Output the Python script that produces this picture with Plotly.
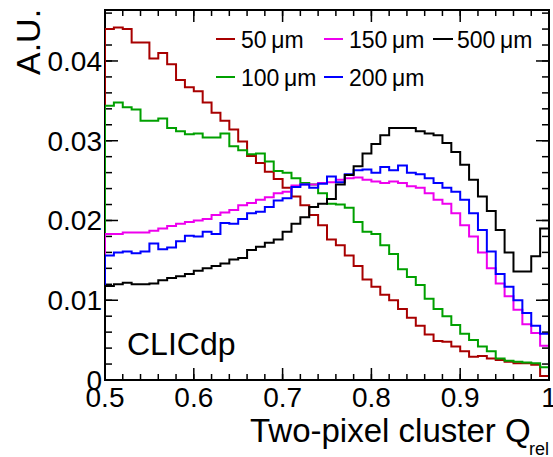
import numpy as np
import plotly.graph_objects as go

# Bin edges of the relative charge histogram (50 bins from 0.5 to 1.0)
bin_edges = np.round(np.linspace(0.5, 1.0, 51), 3)

# Normalised entries per bin for each pixel pitch
q_50um = [0.0440, 0.0442, 0.0440, 0.0423, 0.0423, 0.0403, 0.0410, 0.0396, 0.0376, 0.0367,
          0.0362, 0.0348, 0.0335, 0.0325, 0.0314, 0.0299, 0.0281, 0.0272, 0.0261, 0.0252,
          0.0241, 0.0230, 0.0219, 0.0207, 0.0194, 0.0176, 0.0169, 0.0156, 0.0143, 0.0126,
          0.0117, 0.0107, 0.0100, 0.0089, 0.0078, 0.0068, 0.0057, 0.0049, 0.0048, 0.0042,
          0.0036, 0.0029, 0.0030, 0.0027, 0.0025, 0.0023, 0.0021, 0.0021, 0.0019, 0.0005]
q_100um = [0.0344, 0.0348, 0.0342, 0.0339, 0.0325, 0.0325, 0.0328, 0.0316, 0.0312, 0.0308,
           0.0309, 0.0304, 0.0304, 0.0309, 0.0293, 0.0288, 0.0283, 0.0284, 0.0274, 0.0262,
           0.0260, 0.0253, 0.0247, 0.0245, 0.0234, 0.0221, 0.0220, 0.0216, 0.0198, 0.0186,
           0.0183, 0.0169, 0.0158, 0.0139, 0.0129, 0.0119, 0.0102, 0.0089, 0.0080, 0.0069,
           0.0058, 0.0050, 0.0042, 0.0036, 0.0027, 0.0024, 0.0023, 0.0022, 0.0021, 0.0016]
q_150um = [0.0183, 0.0183, 0.0185, 0.0185, 0.0185, 0.0187, 0.0190, 0.0193, 0.0196, 0.0198,
           0.0200, 0.0202, 0.0207, 0.0210, 0.0213, 0.0219, 0.0222, 0.0226, 0.0229, 0.0234,
           0.0236, 0.0244, 0.0245, 0.0245, 0.0247, 0.0248, 0.0251, 0.0253, 0.0254, 0.0251,
           0.0249, 0.0247, 0.0249, 0.0247, 0.0243, 0.0241, 0.0234, 0.0226, 0.0221, 0.0209,
           0.0194, 0.0180, 0.0160, 0.0140, 0.0121, 0.0105, 0.0088, 0.0070, 0.0059, 0.0043]
q_200um = [0.0156, 0.0160, 0.0161, 0.0159, 0.0161, 0.0171, 0.0164, 0.0166, 0.0174, 0.0181,
           0.0180, 0.0186, 0.0183, 0.0197, 0.0196, 0.0202, 0.0209, 0.0211, 0.0217, 0.0225,
           0.0228, 0.0242, 0.0245, 0.0241, 0.0246, 0.0255, 0.0248, 0.0258, 0.0263, 0.0264,
           0.0260, 0.0267, 0.0263, 0.0269, 0.0260, 0.0258, 0.0253, 0.0247, 0.0241, 0.0236,
           0.0226, 0.0209, 0.0188, 0.0161, 0.0133, 0.0117, 0.0100, 0.0084, 0.0068, 0.0058]
q_500um = [0.0118, 0.0120, 0.0122, 0.0120, 0.0120, 0.0121, 0.0125, 0.0128, 0.0130, 0.0133,
           0.0137, 0.0140, 0.0143, 0.0146, 0.0151, 0.0153, 0.0163, 0.0167, 0.0172, 0.0176,
           0.0186, 0.0196, 0.0204, 0.0217, 0.0221, 0.0227, 0.0245, 0.0257, 0.0268, 0.0284,
           0.0296, 0.0307, 0.0316, 0.0316, 0.0316, 0.0312, 0.0309, 0.0307, 0.0297, 0.0286,
           0.0270, 0.0251, 0.0230, 0.0212, 0.0188, 0.0160, 0.0136, 0.0136, 0.0155, 0.0190]

series_labels = ["50\u2009\u03bcm", "100\u2009\u03bcm", "150\u2009\u03bcm", "200\u2009\u03bcm", "500\u2009\u03bcm"]
series_values = [q_50um, q_100um, q_150um, q_200um, q_500um]
series_colors = ["#a80000", "#00a000", "#ee00ee", "#0000ff", "#000000"]

x_tick_vals = [0.5, 0.6, 0.7, 0.8, 0.9, 1.0]
x_tick_text = ["0.5", "0.6", "0.7", "0.8", "0.9", "1"]
y_tick_vals = [0, 0.01, 0.02, 0.03, 0.04]
y_tick_text = ["0", "0.01", "0.02", "0.03", "0.04"]
x_minor_vals = [round(0.5 + 0.02 * k, 3) for k in range(26)]
y_minor_vals = [round(0.002 * k, 4) for k in range(24)]
X_RANGE = [0.5, 1.0]
Y_RANGE = [0, 0.04639]

FONT = "Liberation Sans, Arial, Helvetica, sans-serif"
W, H = 553, 457
L, R, T, B = 105, 4, 10, 77


def px(xp):
    return (xp - L) / (W - L - R)


def py(yp):
    return (H - B - yp) / (H - T - B)


fig = go.Figure()

for label, vals, color in zip(series_labels, series_values, series_colors):
    # closed step outline: up from zero at the first edge, down to zero at the last
    xs = [bin_edges[0]] + list(bin_edges) + [bin_edges[-1]]
    ys = [0.0] + list(vals) + [vals[-1], 0.0]
    fig.add_trace(go.Scatter(
        x=xs, y=ys, mode="lines", name=label,
        line=dict(color=color, width=2, shape="hv"),
        showlegend=False, hoverinfo="skip",
    ))

fig.update_layout(
    template="none",
    width=W, height=H,
    margin=dict(l=L, r=R, t=T, b=B, pad=0),
    paper_bgcolor="white", plot_bgcolor="white",
    showlegend=False,
    xaxis=dict(
        range=X_RANGE, tickmode="array", tickvals=x_tick_vals, ticktext=x_tick_text,
        ticks="", showline=False, showgrid=False, zeroline=False, automargin=False,
        ticklabelstandoff=-2, ticklabeloverflow="allow",
        tickfont=dict(family=FONT, size=28, color="black"),
    ),
    yaxis=dict(
        range=Y_RANGE, tickmode="array", tickvals=y_tick_vals, ticktext=y_tick_text,
        ticks="", showline=False, showgrid=False, zeroline=False, automargin=False,
        ticklabelstandoff=2,
        tickfont=dict(family=FONT, size=28, color="black"),
    ),
)

shapes = []

# frame around the plotting area
shapes.append(dict(type="rect", xref="paper", yref="paper", x0=0, x1=1, y0=0, y1=1,
                   line=dict(color="black", width=2), layer="below"))


def x_tick(val, length, side):
    # side 0 = bottom edge, 1 = top edge; length in pixels pointing inwards
    return dict(type="line", xref="x", x0=val, x1=val,
                yref="paper", ysizemode="pixel", yanchor=side,
                y0=0, y1=length if side == 0 else -length,
                line=dict(color="black", width=1.5), layer="below")


def y_tick(val, length, side):
    # side 0 = left edge, 1 = right edge
    return dict(type="line", yref="y", y0=val, y1=val,
                xref="paper", xsizemode="pixel", xanchor=side,
                x0=0, x1=length if side == 0 else -length,
                line=dict(color="black", width=1.5), layer="below")


for side in (0, 1):
    shapes += [x_tick(v, 6, side) for v in x_minor_vals]
    shapes += [x_tick(v, 12, side) for v in x_tick_vals]
    shapes += [y_tick(v, 7, side) for v in y_minor_vals]
    shapes += [y_tick(v, 13, side) for v in y_tick_vals]

annotations = []

# legend: three columns, two rows
legend_slots = [
    (216, 235, 239, 39),   # 50
    (216, 235, 239, 77),   # 100
    (324, 343, 347, 39),   # 150
    (324, 343, 347, 77),   # 200
    (433, 453, 455, 39),   # 500
]
for (x0, x1, xt, yc), label, color in zip(legend_slots, series_labels, series_colors):
    shapes.append(dict(type="line", xref="paper", yref="paper",
                       x0=px(x0), x1=px(x1), y0=py(yc), y1=py(yc),
                       line=dict(color=color, width=2)))
    annotations.append(dict(text=label, xref="paper", yref="paper",
                            x=px(xt), y=py(yc + 1), xanchor="left", yanchor="middle",
                            showarrow=False, font=dict(family=FONT, size=23, color="black")))

annotations.append(dict(text="CLICdp", xref="paper", yref="paper",
                        x=px(125), y=py(344), xanchor="left", yanchor="middle",
                        showarrow=False, font=dict(family=FONT, size=32, color="black")))

annotations.append(dict(text="Two-pixel cluster Q", xref="paper", yref="paper",
                        x=px(533), y=py(430), xanchor="right", yanchor="middle",
                        showarrow=False, font=dict(family=FONT, size=33, color="black")))
annotations.append(dict(text="rel", xref="paper", yref="paper",
                        x=px(527), y=py(449), xanchor="left", yanchor="middle",
                        showarrow=False, font=dict(family=FONT, size=18, color="black")))

annotations.append(dict(text="A.U.", xref="paper", yref="paper", textangle=-90,
                        x=px(28), y=py(42), xanchor="center", yanchor="middle",
                        showarrow=False, font=dict(family=FONT, size=34, color="black")))

fig.update_layout(annotations=annotations, shapes=shapes)

fig.write_html("out.html")
